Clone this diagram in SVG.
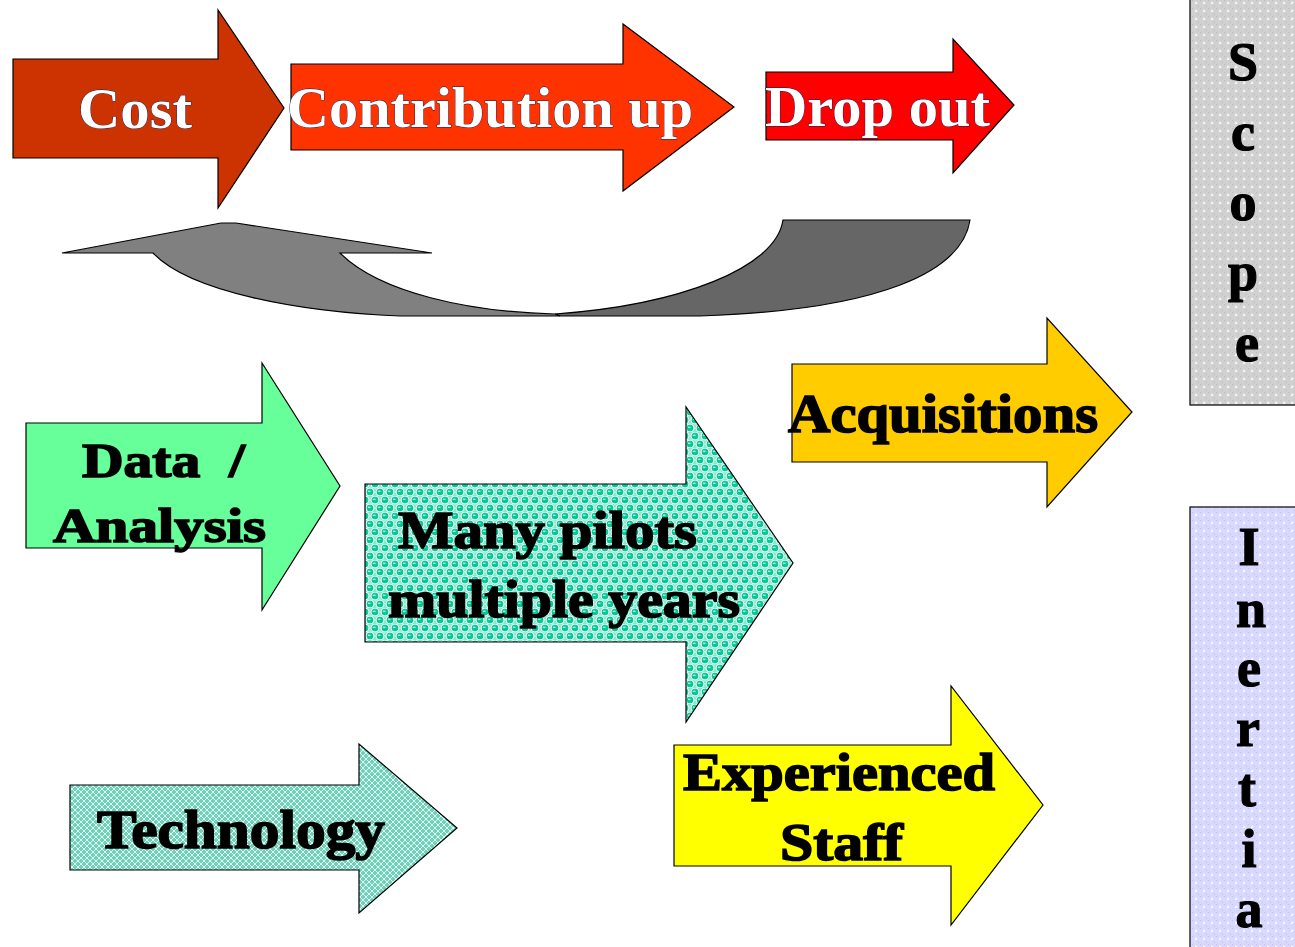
<svg xmlns="http://www.w3.org/2000/svg" width="1295" height="947" viewBox="0 0 1295 947">
  <defs>
    <style>
      .outline { stroke: #000; stroke-width: 1.2; stroke-linejoin: miter; }
      .white-label { font-family: "Liberation Serif", "Times New Roman", serif; font-weight: bold; font-size: 56px; fill: #fff; stroke: #0a2060; stroke-width: 0.8; paint-order: stroke; }
      .black-label { font-family: "Liberation Serif", "Times New Roman", serif; font-weight: bold; fill: #000; stroke: #000; stroke-width: 1.6; }
      .side-letter { font-family: "Liberation Serif", "Times New Roman", serif; font-weight: bold; font-size: 54px; fill: #000; stroke: #000; stroke-width: 1.2; text-anchor: middle; }
    </style>
    <!-- grey dotted texture -->
    <pattern id="greyDots" width="8" height="8" patternUnits="userSpaceOnUse">
      <rect width="8" height="8" fill="#D0D0D0"/>
      <rect x="0" y="0" width="1" height="1" fill="#BABABA"/>
      <rect x="2" y="2" width="1" height="1" fill="#BABABA"/>
      <rect x="4" y="4" width="1" height="1" fill="#BABABA"/>
      <rect x="6" y="6" width="1" height="1" fill="#BABABA"/>
      <path d="M4 1.5v3M2.5 3h3" stroke="#fff" stroke-width="1"/>
    </pattern>
    <!-- lavender dotted texture -->
    <pattern id="lavenderDots" width="8" height="8" patternUnits="userSpaceOnUse">
      <rect width="8" height="8" fill="#D8D8FF"/>
      <rect x="0" y="0" width="1" height="1" fill="#C2C2F2"/>
      <rect x="2" y="2" width="1" height="1" fill="#C2C2F2"/>
      <rect x="4" y="4" width="1" height="1" fill="#C2C2F2"/>
      <rect x="6" y="6" width="1" height="1" fill="#C2C2F2"/>
      <path d="M4 1.5v3M2.5 3h3" stroke="#fff" stroke-width="1"/>
    </pattern>
    <!-- teal bubble texture -->
    <pattern id="bubbles" width="10" height="16" patternUnits="userSpaceOnUse">
      <rect width="10" height="16" fill="#8FE6CB"/>
      <circle cx="5" cy="4" r="4" fill="#00CC99" stroke="#fff" stroke-width="1"/>
      <circle cx="0" cy="12" r="4" fill="#00CC99" stroke="#fff" stroke-width="1"/>
      <circle cx="10" cy="12" r="4" fill="#00CC99" stroke="#fff" stroke-width="1"/>
      <path d="M3 3.2h2.5" stroke="#E8FFF8" stroke-width="1"/>
      <path d="M8 11.2h2.5M-2 11.2h2.5" stroke="#E8FFF8" stroke-width="1"/>
    </pattern>
    <!-- light teal lattice texture -->
    <pattern id="lattice" width="6" height="6" patternUnits="userSpaceOnUse">
      <rect width="6" height="6" fill="#6ED2B8"/>
      <path d="M0 3L3 0L6 3L3 6Z" fill="none" stroke="#F2FFFA" stroke-width="0.9"/>
    </pattern>
  </defs>

  <rect width="1295" height="947" fill="#fff"/>

  <!-- side bars -->
  <g id="scope">
    <rect x="1190" y="-5" width="115" height="410" fill="url(#greyDots)" class="outline"/>
    <text class="side-letter" x="1243" y="80">S</text>
    <text class="side-letter" x="1243" y="150">c</text>
    <text class="side-letter" x="1243" y="220">o</text>
    <text class="side-letter" x="1243" y="290">p</text>
    <text class="side-letter" x="1247" y="361">e</text>
  </g>
  <g id="inertia">
    <rect x="1190" y="507" width="115" height="450" fill="url(#lavenderDots)" class="outline"/>
    <text class="side-letter" x="1249" y="565">I</text>
    <text class="side-letter" x="1251" y="627">n</text>
    <text class="side-letter" x="1249" y="686">e</text>
    <text class="side-letter" x="1248" y="746">r</text>
    <text class="side-letter" x="1247" y="806">t</text>
    <text class="side-letter" x="1249" y="867">i</text>
    <text class="side-letter" x="1249" y="927">a</text>
  </g>

  <!-- top row of block arrows -->
  <g id="cost">
    <path d="M13 59H218V10L284 108L218 208V158H13Z" fill="#CC3300" class="outline"/>
    <text class="white-label" x="78" y="128" textLength="114" lengthAdjust="spacingAndGlyphs">Cost</text>
  </g>
  <g id="contribution-up">
    <path d="M291 64H623V24L734 107L623 191V150H291Z" fill="#FF3300" class="outline"/>
    <text class="white-label" x="287" y="127" textLength="406" lengthAdjust="spacingAndGlyphs">Contribution up</text>
  </g>
  <g id="drop-out">
    <path d="M766 72H953V39L1014 105L953 173V140H766Z" fill="#FF0000" class="outline"/>
    <text class="white-label" x="765" y="126" textLength="225" lengthAdjust="spacingAndGlyphs">Drop out</text>
  </g>

  <!-- curved return arrow -->
  <g id="connectors">
    <path d="M555 314C680 305 776 268 783 220H970C962 272 880 310 700 316H560Z" fill="#666666" class="outline"/>
    <path d="M62 253L221 223L236 223L432 253H340C380 293 470 312 555 314L560 316H400C300 312 190 292 153 253Z" fill="#808080" class="outline"/>
  </g>

  <!-- middle and lower arrows -->
  <g id="data-analysis">
    <path d="M26 423H262V363L340 486L262 610V548H26Z" fill="#66FF99" class="outline"/>
    <text class="black-label" font-size="48" x="82" y="477" textLength="163" lengthAdjust="spacingAndGlyphs" xml:space="preserve">Data  /</text>
    <text class="black-label" font-size="48" x="53" y="542" textLength="213" lengthAdjust="spacingAndGlyphs">Analysis</text>
  </g>
  <g id="many-pilots">
    <path d="M365 484H686V407L793 563L686 722V642H365Z" fill="url(#bubbles)" class="outline"/>
    <text class="black-label" font-size="53" x="398" y="548" textLength="299" lengthAdjust="spacingAndGlyphs">Many pilots</text>
    <text class="black-label" font-size="53" x="388" y="617" textLength="352" lengthAdjust="spacingAndGlyphs">multiple years</text>
  </g>
  <g id="acquisitions">
    <path d="M792 364H1047V318L1132 412L1047 507V462H792Z" fill="#FFCC00" class="outline"/>
    <text class="black-label" font-size="54" x="788" y="432" textLength="310" lengthAdjust="spacingAndGlyphs">Acquisitions</text>
  </g>
  <g id="technology">
    <path d="M70 785H359V744L457 828L359 913V870H70Z" fill="url(#lattice)" class="outline"/>
    <text class="black-label" font-size="54" x="97" y="848" textLength="288" lengthAdjust="spacingAndGlyphs">Technology</text>
  </g>
  <g id="experienced-staff">
    <path d="M674 745H951V686L1043 805L951 925V866H674Z" fill="#FFFF00" class="outline"/>
    <text class="black-label" font-size="53" x="683" y="790" textLength="312" lengthAdjust="spacingAndGlyphs">Experienced</text>
    <text class="black-label" font-size="53" x="780" y="860" textLength="123" lengthAdjust="spacingAndGlyphs">Staff</text>
  </g>
</svg>
